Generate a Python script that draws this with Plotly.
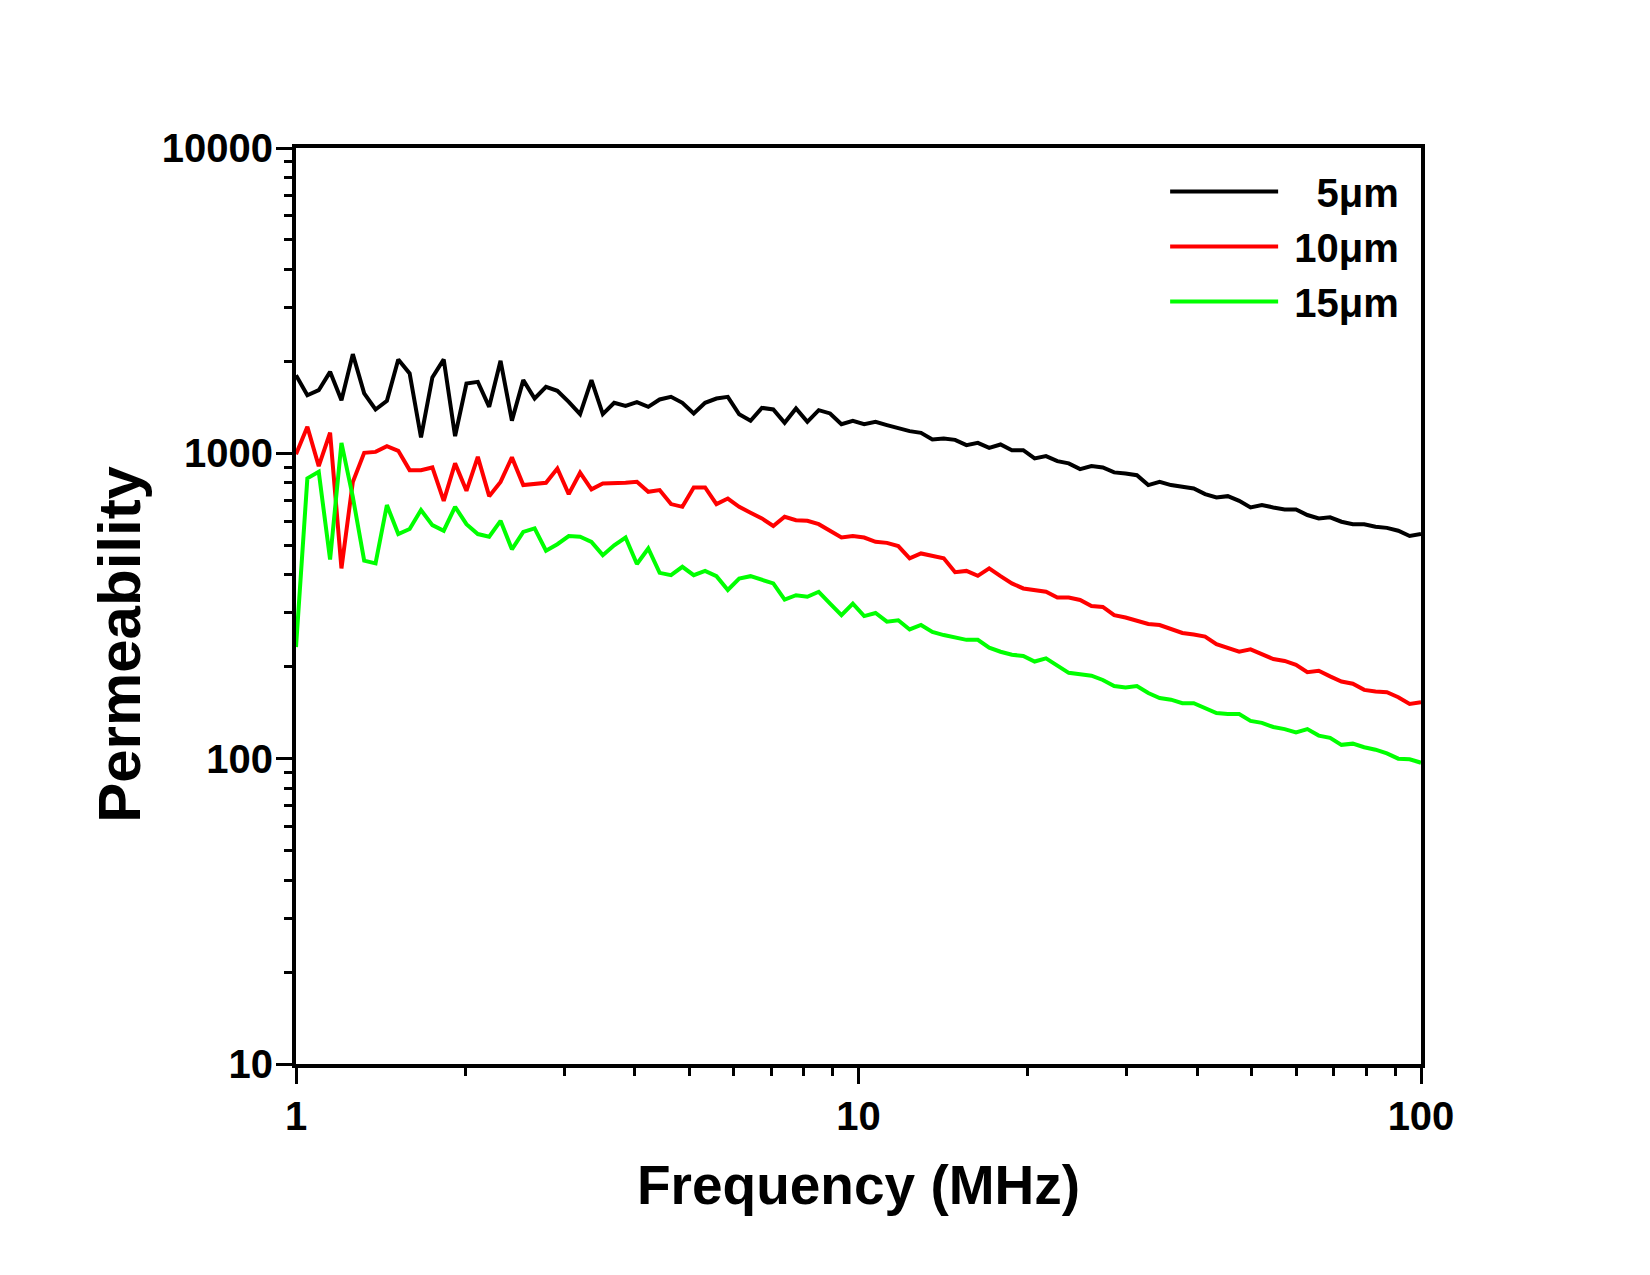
import numpy as np
import plotly.graph_objects as go

# ---- data ----
# log-spaced frequency sweep, 1 to 100 MHz, 100 points
FREQ_START_MHZ = 1
FREQ_STOP_MHZ = 100
N_POINTS = 100
freq = np.logspace(np.log10(FREQ_START_MHZ), np.log10(FREQ_STOP_MHZ), N_POINTS)

series_names = ["\u00a0\u20075\u03bcm", "\u00a010\u03bcm", "\u00a015\u03bcm"]

perm_5um = [1803, 1550, 1610, 1849, 1493, 2113, 1571, 1392, 1485, 2030,
            1827, 1127, 1772, 2030, 1138, 1693, 1714, 1420, 2009, 1280,
            1737, 1512, 1651, 1602, 1475, 1344, 1737, 1344, 1464, 1431,
            1471, 1420, 1501, 1531, 1464, 1351, 1464, 1512, 1531, 1342,
            1278, 1409, 1392, 1259, 1403, 1268, 1385, 1351, 1246, 1278,
            1246, 1268, 1237, 1206, 1182, 1167, 1110, 1119, 1107, 1064,
            1082, 1042, 1069, 1024, 1024, 962, 979, 943, 927, 888,
            908, 899, 866, 859, 848, 787, 807, 787, 777, 767,
            735, 717, 724, 699, 665, 677, 665, 655, 655, 628,
            612, 617, 597, 586, 586, 575, 570, 558, 536, 544]

perm_10um = [994, 1222, 908, 1168, 420, 806, 1004, 1011, 1056, 1019,
             881, 881, 899, 699, 927, 754, 974, 724, 806, 970,
             787, 793, 801, 892, 735, 864, 762, 797, 797, 801,
             807, 748, 758, 682, 668, 773, 773, 682, 711, 668,
             639, 612, 578, 620, 604, 601, 586, 558, 530, 536,
             530, 513, 509, 497, 453, 470, 461, 453, 408, 412,
             397, 420, 396, 375, 361, 357, 352, 337, 337, 331,
             316, 314, 295, 290, 284, 276, 274, 266, 258, 255,
             251, 237, 231, 224, 228, 220, 212, 209, 203, 192,
             194, 186, 179, 176, 168, 166, 165, 159, 151, 153]

perm_15um = [232, 828, 870, 449, 1082, 720, 445, 436, 677, 544,
             565, 652, 582, 558, 668, 586, 544, 533, 601, 485,
             553, 568, 480, 504, 536, 533, 513, 464, 500, 530,
             434, 488, 406, 399, 425, 399, 412, 396, 357, 389,
             396, 384, 375, 332, 343, 339, 352, 322, 295, 322,
             293, 300, 281, 284, 265, 274, 260, 254, 249, 245,
             245, 231, 224, 219, 217, 208, 213, 201, 191, 189,
             187, 181, 173, 171, 173, 164, 158, 156, 152, 152,
             146, 141, 140, 140, 133, 131, 127, 125, 122, 125,
             119, 117, 111, 112, 109, 107, 104, 100, 99.5, 97]

x_tickvals = [1, 10, 100]
x_ticktext = ["1", "10", "100"]
y_tickvals = [10, 100, 1000, 10000]
y_ticktext = ["10", "100", "1000", "10000"]

colors = ["#000000", "#ff0000", "#00ff00"]

FONT = "Liberation Sans, Arial, sans-serif"

fig = go.Figure()
for name, vals, col, grp in zip(series_names, [perm_5um, perm_10um, perm_15um], colors, ["a", "b", "c"]):
    fig.add_trace(go.Scatter(x=freq, y=vals, mode="lines", name=name,
                             legendgroup=grp,
                             line=dict(color=col, width=4)))

x_minor = [m * d for d in (1, 10) for m in range(2, 10)]
y_minor = [m * d for d in (10, 100, 1000) for m in range(2, 10)]

axis_common = dict(
    showline=True, linecolor="black", linewidth=4, mirror=True,
    showgrid=False, zeroline=False,
    ticks="outside", ticklen=16, tickwidth=3, tickcolor="black",
    tickfont=dict(family=FONT, size=40, color="black", weight="bold"),
)

fig.update_layout(
    width=1650, height=1275,
    margin=dict(l=288, r=237, t=140, b=219),
    paper_bgcolor="white", plot_bgcolor="white",
    xaxis=dict(type="log", range=[0, 2], tickmode="array",
               tickvals=x_tickvals, ticktext=x_ticktext,
               minor=dict(tickmode="array", tickvals=x_minor, ticks="outside",
                          ticklen=8, tickwidth=2.5, tickcolor="black", showgrid=False),
               title=dict(text="Frequency (MHz)", standoff=29,
                          font=dict(family=FONT, size=55, color="black", weight="bold")),
               ticklabelstandoff=-2,
               **axis_common),
    yaxis=dict(type="log", range=[1, 4], tickmode="array",
               tickvals=y_tickvals, ticktext=y_ticktext,
               minor=dict(tickmode="array", tickvals=y_minor, ticks="outside",
                          ticklen=8, tickwidth=2.5, tickcolor="black", showgrid=False),
               ticklabelstandoff=-5,
               **axis_common),
    legend=dict(x=0.985, y=0.988, xanchor="right", yanchor="top",
                bgcolor="rgba(0,0,0,0)", borderwidth=0,
                font=dict(family=FONT, size=40, color="black", weight="bold"),
                itemwidth=108, tracegroupgap=0),
    annotations=[dict(text="Permeability", xref="paper", yref="paper",
                      x=-0.157, y=0.458, xanchor="center", yanchor="middle",
                      textangle=-90, showarrow=False,
                      font=dict(family=FONT, size=60, color="black", weight="bold"))],
    showlegend=True,
)

fig.write_html("out.html")
